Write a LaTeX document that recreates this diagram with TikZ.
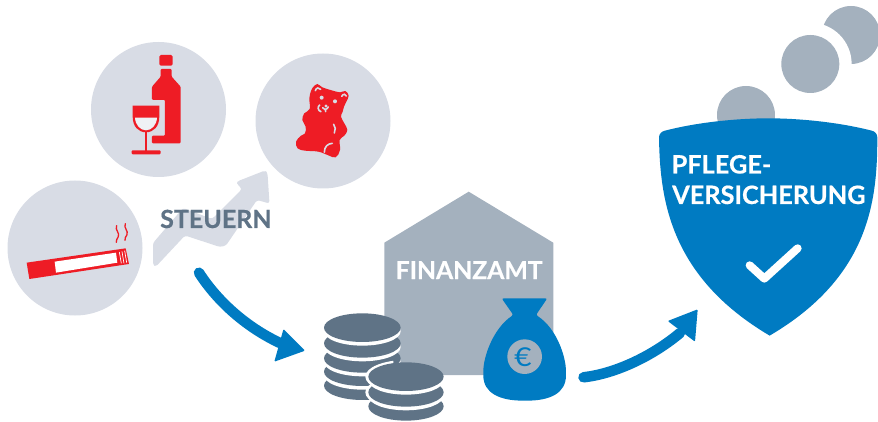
\documentclass[tikz,border=0pt]{standalone}
\usepackage{fontspec}
\setmainfont{Lato}[BoldFont={Lato Bold},BoldFeatures={FakeBold=0.5}]
\usetikzlibrary{calc}
\definecolor{lightgray}{HTML}{D8DCE5}
\definecolor{midgray}{HTML}{A4B1BE}
\definecolor{slategray}{HTML}{5F7386}
\definecolor{brandblue}{HTML}{007BC2}
\definecolor{brandred}{HTML}{EE1C25}
\tikzset{
  bubble/.style={circle,fill=lightgray,minimum size=135pt,inner sep=0pt},
  label/.style={anchor=base west,inner sep=0pt,font=\bfseries\fontsize{25}{25}\selectfont},
  zoom/.style={x=0.3333pt,y=-0.3333pt},
  flowline/.style={draw=brandblue,line width=10.5pt,line cap=round},
  coinlayer/.style={fill=slategray,draw=none},
  gapwhite/.style={fill=white,draw=none},
}
\begin{document}
\begin{tikzpicture}[x=1pt,y=-1pt]
\useasboundingbox (0,0) rectangle (878,422);

% bubbles
\node[bubble] (wine) at (158.5,109.5) {};
\node[bubble] (bear) at (323,121) {};
\node[bubble] (cig) at (75,248) {};

% rising arrow
\fill[lightgray,rounded corners=2.5pt] (153,243) -- (183,208) -- (212,219) -- (242,189) -- (237,184) -- (237,181.5) -- (265,170.5) -- (267.5,173) -- (269.5,203.5) -- (257,200) -- (226,245.5) -- (220,247) -- (185,235.5) -- (156,266.5) -- (153,265) -- cycle;

% bottle and glass
\begin{scope}[zoom,shift={(120pt,-45pt)}]
  \fill[brandred,rounded corners=1.5pt] (118,30) rectangle (158,62);
  \fill[brandred,rounded corners=1pt] (122,72) -- (155,72) -- (155,95) -- (182,125) -- (182,295) -- (96,295) -- (96,272) -- (135,272) -- (135,165) -- (96,165) -- (96,125) -- (122,95) -- cycle;
  \fill[brandred] (38,182) -- (118,182) -- (118,215) .. controls (118,245) and (100,262) .. (78,262) .. controls (56,262) and (38,245) .. (38,215) -- cycle;
  \fill[lightgray!40!white] (45,218) -- (111,218) .. controls (110,240) and (95,256) .. (78,256) .. controls (61,256) and (46,240) .. (45,218) -- cycle;
  \fill[brandred] (74,260) rectangle (82,320);
  \fill[brandred,rounded corners=1pt] (35,316) rectangle (122,328);
\end{scope}

% gummy bear
\begin{scope}[zoom,shift={(285pt,-75pt)}]
  \fill[brandred] plot[smooth cycle,tension=0.65] coordinates {(83,38) (97,27) (112,37) (140,46) (165,52) (181,48) (191,62) (184,80) (177,95) (173,110) (168,125) (178,145) (187,165) (178,182) (164,195) (165,225) (152,247) (130,241) (100,230) (60,227) (38,220) (33,200) (48,182) (60,175) (62,155) (52,135) (58,115) (74,102) (73,70) (78,48)};
  \begin{scope}[draw=lightgray,line width=1.6pt,line cap=round]
    \draw (91,47) .. controls (93,38) and (103,36) .. (107,43);
    \draw (170,64) .. controls (174,56) and (183,56) .. (184,63);
    \draw (118,232) .. controls (118,215) and (128,206) .. (142,205);
    \draw (146,148) .. controls (152,155) and (152,165) .. (148,174);
    \draw (104,90) .. controls (97,95) and (98,107) .. (108,110);
    \draw (113,98) .. controls (120,105) and (124,105) .. (130,96);
    \draw (121,103) -- (122,110);
  \end{scope}
  \fill[lightgray] (110,68) circle[radius=6];
  \fill[lightgray] (150,79) circle[radius=6];
  \fill[lightgray] (123,93) circle[radius=5];
\end{scope}

% cigarette
\begin{scope}[zoom,shift={(20pt,-210pt)}]
  \fill[brandred] (20,158) -- (317,115) -- (327,162) -- (28,207) -- cycle;
  \fill[white] (104,155) -- (288,128) -- (292,158) -- (108,188) -- cycle;
  \draw[white,line width=0.7pt] (298,126) -- (304,160) (306,124) -- (312,160) (314,122) -- (320,158);
  \begin{scope}[draw=brandred,line width=1.3pt,line cap=round]
    \draw (290,47) .. controls (284,60) and (300,68) .. (295,80) .. controls (292,88) and (287,90) .. (289,97);
    \draw (316,41) .. controls (310,54) and (326,62) .. (321,74) .. controls (318,82) and (313,84) .. (315,91);
  \end{scope}
\end{scope}

% office
\fill[midgray] (384.3,242.7) -- (468.7,191.7) -- (553.3,242.7) -- (553.3,375) -- (384.3,375) -- cycle;

% coin stacks
\begin{scope}[zoom,shift={(300pt,-180pt)}]
  \foreach \cy in {617,575,535,490,443}{
    \fill[gapwhite] (187,\cy+11) ellipse[x radius=115,y radius=43];
    \fill[coinlayer] (187,\cy) ellipse[x radius=115,y radius=43];
  }
  \begin{scope}
    \clip (150,500) rectangle (280,700);
    \fill[gapwhite] (318,590) ellipse[x radius=122,y radius=50];
    \fill[gapwhite] (318,637) ellipse[x radius=122,y radius=50];
  \end{scope}
  \foreach \cy in {679,637,590}{
    \fill[gapwhite] (318,\cy+11) ellipse[x radius=113,y radius=43];
    \fill[coinlayer] (318,\cy) ellipse[x radius=113,y radius=43];
  }
\end{scope}

% money bag
\begin{scope}[zoom,shift={(300pt,-180pt)}]
  \fill[brandblue,rounded corners=2pt] (605,355) -- (742,355) -- (708,405) .. controls (770,445) and (798,530) .. (798,580) .. controls (798,640) and (750,662) .. (675,662) .. controls (600,662) and (550,640) .. (550,580) .. controls (550,530) and (580,445) .. (640,405) -- cycle;
  \fill[midgray] (674,530) circle[radius=52];
\end{scope}
\node[inner sep=0pt,text=brandblue,font=\fontsize{26}{26}\selectfont] (euro) at (523,357) {\scalebox{1.15}[1]{€}};

% shield
\begin{scope}[zoom,shift={(640pt,0pt)}]
  \fill[midgray] (318,345) circle[radius=87];
  \fill[midgray] (633,105) circle[radius=87];
  \fill[white] (511,192) circle[radius=124];
  \fill[midgray] (511,192) circle[radius=87];
  \fill[brandblue] (75,392) .. controls (180,365) and (300,355) .. (385,355) .. controls (470,355) and (590,365) .. (695,392) .. controls (705,394) and (712,402) .. (712,412) .. controls (712,600) and (690,830) .. (389,1007) .. controls (90,830) and (60,600) .. (57,412) .. controls (57,402) and (65,394) .. (75,392) -- cycle;
  \draw[white,line width=8pt,line cap=round,line join=round] (329,796) -- (373,836) -- (473,745);
\end{scope}

% texts
\node[label,text=slategray] (steuern) at (160,228) {STEUERN};
\node[label,text=white,font=\bfseries\fontsize{24.7}{25}\selectfont] (finanzamt) at (395.5,279) {FINANZAMT};
\node[label,text=white,font=\bfseries\fontsize{25.3}{25}\selectfont] (pflege) at (671.5,173.5) {PFLEGE-};
\node[label,text=white,font=\bfseries\fontsize{25.3}{25}\selectfont] (versicherung) at (672,204) {VERSICHERUNG};

% flow arrows
\coordinate (taxstart) at (199,272.7);
\coordinate (taxend) at (280,343);
\coordinate (payend) at (680,333);
\coordinate (paystart) at (583.5,377.3);
\draw[flowline] (taxstart) .. controls (218.5,303) and (248,328) .. (taxend);
\fill[brandblue,rounded corners=1pt] (283.5,329) -- (305,350.7) -- (274.3,361.7) -- cycle;
\draw[flowline] (paystart) .. controls (613,374) and (650,358) .. (payend);
\fill[brandblue,rounded corners=1pt] (667.7,321) -- (697.7,309.3) -- (695,341.7) -- cycle;
\end{tikzpicture}
\end{document}
